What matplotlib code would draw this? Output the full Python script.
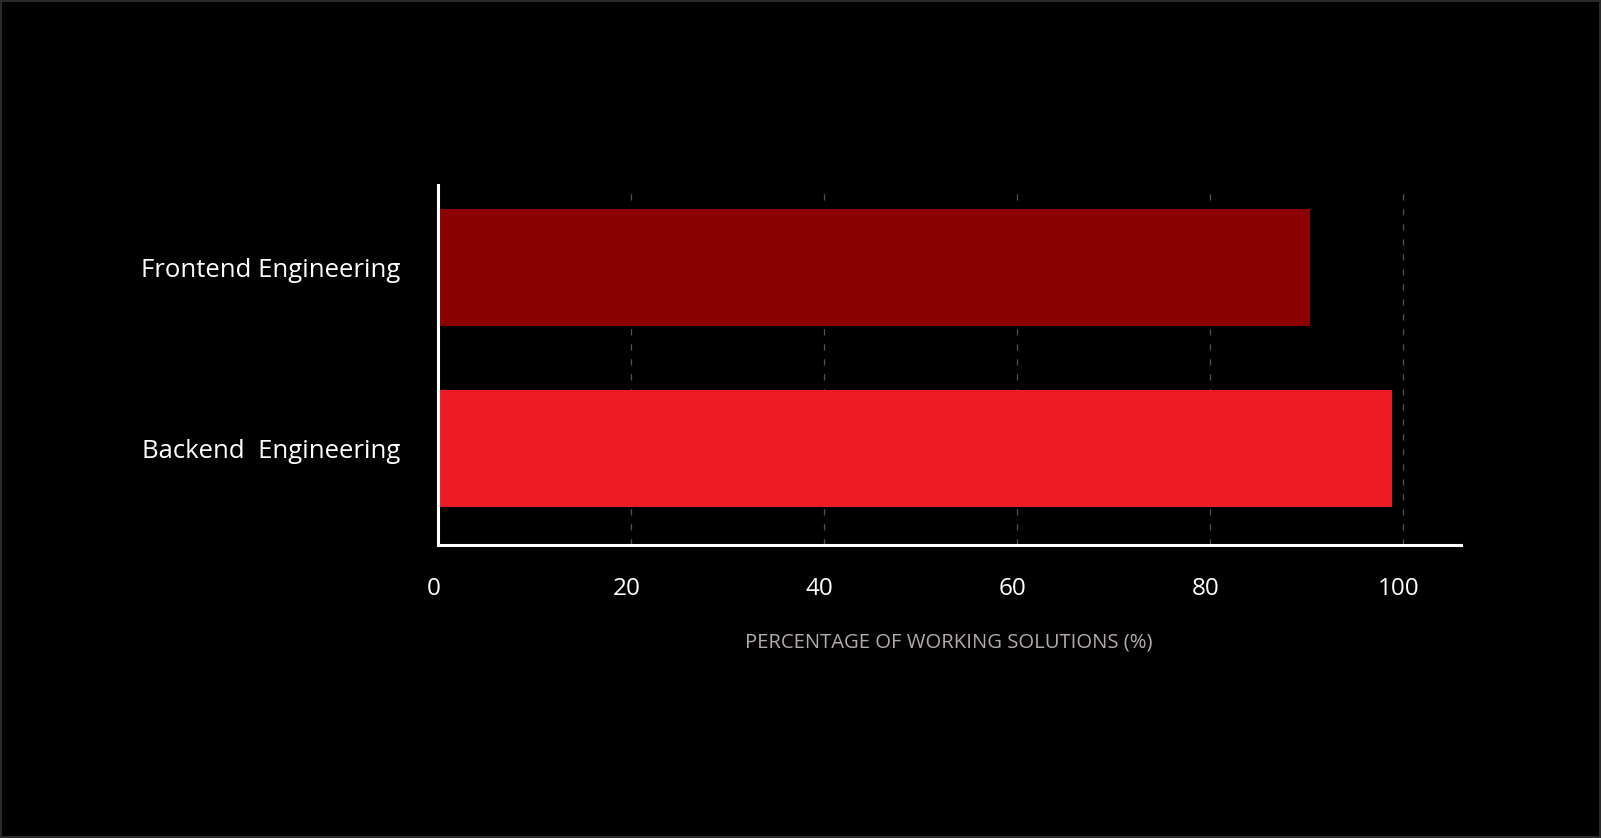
import matplotlib
matplotlib.use("Agg")
import matplotlib.pyplot as plt
import matplotlib.transforms as mtransforms

categories = ["Backend  Engineering", "Frontend Engineering"]
values = [98.9, 90.4]
bar_colors = ["#ED1C24", "#8B0000"]
xticks = [0, 20, 40, 60, 80, 100]
xlabel = "PERCENTAGE OF WORKING SOLUTIONS (%)"

plt.rcParams['font.family'] = ['Open Sans', 'DejaVu Sans']

fig = plt.figure(figsize=(16.01, 8.38), dpi=100, facecolor="black")
fig.patch.set_edgecolor("#2a2a2a")
fig.patch.set_linewidth(1.5)
ax = fig.add_axes([0.2733, 0.3496, 0.9124 - 0.2733, 0.7792 - 0.3496])
ax.set_facecolor("black")

ypos = list(range(len(categories)))
ax.barh(ypos, values, height=0.646, color=bar_colors, zorder=3)

ax.set_xlim(0, 106)
ax.set_ylim(-0.533, 1.456)
ax.set_xticks(xticks)
ax.set_xticklabels([str(t) for t in xticks])
ax.set_yticks(ypos)
ax.set_yticklabels(categories)

ax.tick_params(axis='x', length=0, pad=23, labelsize=17.5, labelcolor="white")
ax.tick_params(axis='y', length=0, pad=27, labelsize=18.5, labelcolor="white")

offset = mtransforms.ScaledTranslation(-4 / 100, 0, fig.dpi_scale_trans)
for lbl in ax.get_xticklabels():
    lbl.set_transform(lbl.get_transform() + offset)

for s in ["top", "right"]:
    ax.spines[s].set_visible(False)
for s in ["left", "bottom"]:
    ax.spines[s].set_color("white")
    ax.spines[s].set_linewidth(2.2)
    ax.spines[s].set_zorder(4)

ax.grid(axis='x', color="#5a4f4f", linewidth=0.9, linestyle=(0, (5, 7)), zorder=0)
ax.grid(axis='y', visible=False)

ax.set_xlabel(xlabel, color="#b3abab", fontsize=14.6, labelpad=23)

fig.savefig("out.png", dpi=100, facecolor=fig.get_facecolor(), edgecolor=fig.get_edgecolor())
